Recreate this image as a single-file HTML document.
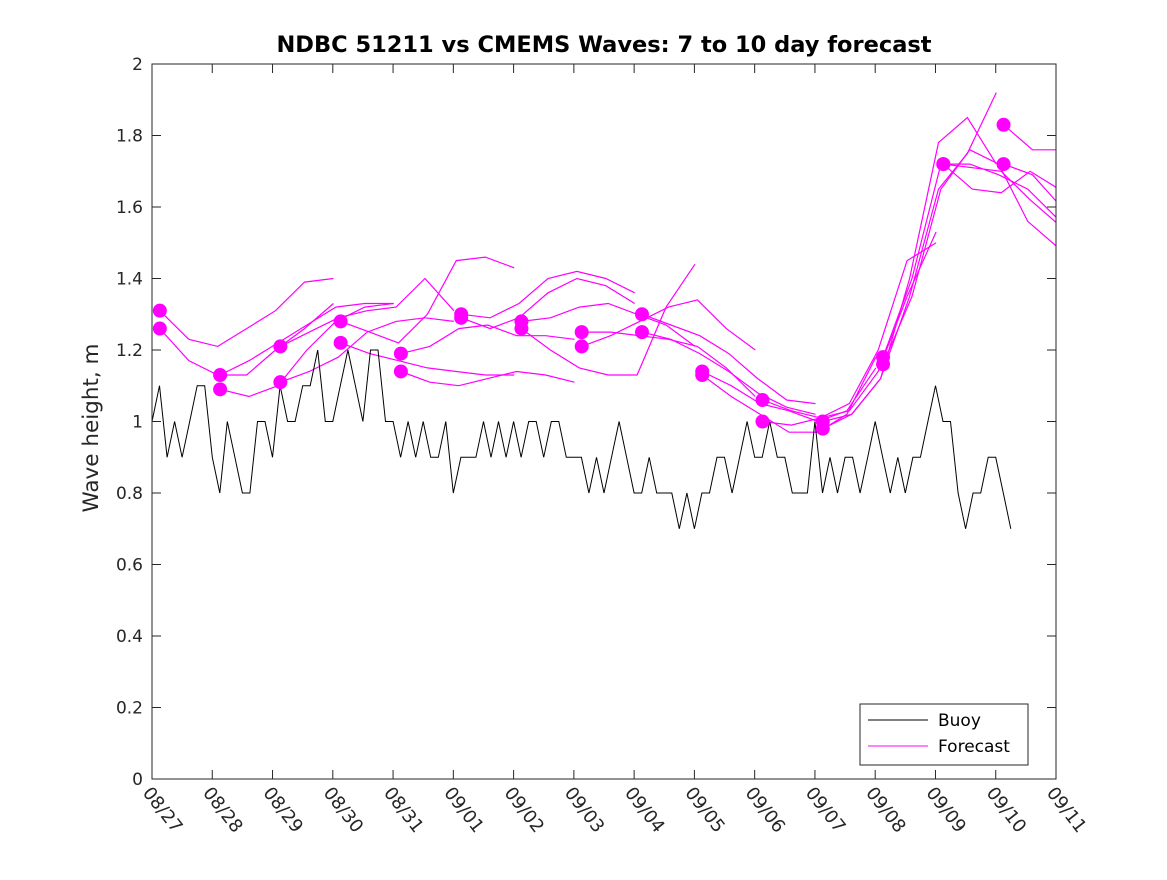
<!DOCTYPE html>
<html><head><meta charset="utf-8"><style>
body{margin:0;background:#fff}
svg text{font-family:"DejaVu Sans","Liberation Sans",sans-serif;fill:#262626}
</style></head><body>
<svg id="chart" width="1167" height="875" xmlns="http://www.w3.org/2000/svg">
<defs><clipPath id="clip"><rect x="152" y="64" width="904" height="715"/></clipPath></defs>
<rect x="0" y="0" width="1167" height="875" fill="#fff"/>
<text x="604" y="52" text-anchor="middle" font-size="22.5" font-weight="bold" style="fill:#000">NDBC 51211 vs CMEMS Waves: 7 to 10 day forecast</text>
<text transform="translate(98,428) rotate(-90)" text-anchor="middle" font-size="21.5">Wave height, m</text>
<g id="axes"></g>
<g id="series" clip-path="url(#clip)"></g>
<rect x="152" y="64" width="904" height="715" fill="none" stroke="#262626" stroke-width="1"/>
<g>
<rect x="860" y="704" width="168" height="61" fill="#fff" stroke="#262626" stroke-width="1"/>
<line x1="868" y1="720" x2="928" y2="720" stroke="#000" stroke-width="1"/>
<text x="938" y="726" font-size="17" style="fill:#000">Buoy</text>
<line x1="868" y1="746" x2="928" y2="746" stroke="#ff00ff" stroke-width="1"/>
<text x="938" y="752" font-size="17" style="fill:#000">Forecast</text>
</g>
</svg>
<script>
const xTickLabels=["08/27","08/28","08/29","08/30","08/31","09/01","09/02","09/03","09/04","09/05","09/06","09/07","09/08","09/09","09/10","09/11"];
const yTickValues=[0,0.2,0.4,0.6,0.8,1,1.2,1.4,1.6,1.8,2];
const yTickLabels=["0","0.2","0.4","0.6","0.8","1","1.2","1.4","1.6","1.8","2"];
const buoyStepDays=0.125;
const buoyValues=[
1.0,1.1,0.9,1.0,0.9,1.0,1.1,1.1,
0.9,0.8,1.0,0.9,0.8,0.8,1.0,1.0,
0.9,1.1,1.0,1.0,1.1,1.1,1.2,1.0,
1.0,1.1,1.2,1.1,1.0,1.2,1.2,1.0,
1.0,0.9,1.0,0.9,1.0,0.9,0.9,1.0,
0.8,0.9,0.9,0.9,1.0,0.9,1.0,0.9,
1.0,0.9,1.0,1.0,0.9,1.0,1.0,0.9,
0.9,0.9,0.8,0.9,0.8,0.9,1.0,0.9,
0.8,0.8,0.9,0.8,0.8,0.8,0.7,0.8,
0.7,0.8,0.8,0.9,0.9,0.8,0.9,1.0,
0.9,0.9,1.0,0.9,0.9,0.8,0.8,0.8,
1.0,0.8,0.9,0.8,0.9,0.9,0.8,0.9,
1.0,0.9,0.8,0.9,0.8,0.9,0.9,1.0,
1.1,1.0,1.0,0.8,0.7,0.8,0.8,0.9,
0.9,0.8,0.7];
const forecastStarts=[0.13,0.13,1.13,1.13,2.13,2.13,3.13,3.13,4.13,4.13,5.13,5.13,6.13,6.13,7.13,7.13,8.13,8.13,9.13,9.13,10.13,10.13,11.13,11.13,12.13,12.13,13.13,13.13,14.13,14.13];
const forecastStep=0.48;
const forecastValues=[
[1.31,1.23,1.21,1.26,1.31,1.39,1.40],
[1.26,1.17,1.13,1.13,1.20,1.26,1.33],
[1.13,1.17,1.22,1.27,1.32,1.33,1.33],
[1.09,1.07,1.10,1.20,1.28,1.32,1.33],
[1.21,1.25,1.29,1.31,1.32,1.40,1.31],
[1.11,1.14,1.18,1.25,1.28,1.29,1.28],
[1.28,1.25,1.22,1.30,1.45,1.46,1.43],
[1.22,1.19,1.17,1.15,1.14,1.13,1.13],
[1.19,1.21,1.26,1.27,1.24,1.24,1.23],
[1.14,1.11,1.10,1.12,1.14,1.13,1.11],
[1.30,1.29,1.33,1.40,1.42,1.40,1.36],
[1.29,1.26,1.29,1.36,1.40,1.38,1.33],
[1.28,1.29,1.32,1.33,1.30,1.27,1.21],
[1.26,1.20,1.15,1.13,1.13,1.32,1.44],
[1.25,1.25,1.24,1.23,1.21,1.15,1.07],
[1.21,1.24,1.28,1.32,1.34,1.26,1.20],
[1.30,1.27,1.24,1.19,1.12,1.06,1.05],
[1.25,1.23,1.19,1.14,1.08,1.04,1.02],
[1.14,1.10,1.05,1.03,1.00,1.03,1.15],
[1.13,1.07,1.02,0.97,0.97,1.02,1.18],
[1.06,1.03,1.01,1.03,1.14,1.35,1.53],
[1.00,0.99,1.01,1.05,1.20,1.45,1.50],
[1.00,1.02,1.12,1.40,1.78,1.85,1.72],
[0.98,1.02,1.12,1.35,1.65,1.75,1.92],
[1.18,1.40,1.72,1.72,1.69,1.65,1.57],
[1.16,1.35,1.65,1.76,1.72,1.56,1.49],
[1.72,1.65,1.64,1.70,1.65,1.49,1.45],
[1.72,1.71,1.70,1.62,1.55,1.48,1.43],
[1.83,1.76,1.76,1.82,1.82,1.82,1.82],
[1.72,1.69,1.60,1.55,1.55,1.55,1.55]];
const NS="http://www.w3.org/2000/svg";
const X0=152,X1=1056,Y0=779,Y1=64;
const xs=d=>X0+(X1-X0)*d/15;
const ys=v=>Y0-(Y0-Y1)*v/2;
function mk(tag,attrs,parent){const e=document.createElementNS(NS,tag);for(const k in attrs)e.setAttribute(k,attrs[k]);parent.appendChild(e);return e;}
const axes=document.getElementById('axes'),series=document.getElementById('series');
yTickValues.forEach((v,i)=>{
 const y=ys(v);
 const t1=mk('line',{x1:X0,y1:y,x2:X0+9,y2:y,stroke:'#262626'},axes);
 
 
 const t2=mk('line',{x1:X1-9,y1:y,x2:X1,y2:y,stroke:'#262626'},axes);
 
 
 const tx=mk('text',{x:X0-9,y:y+6,'text-anchor':'end','font-size':'17'},axes);
 tx.textContent=yTickLabels[i];
 
 
});
xTickLabels.forEach((lab,i)=>{
 const x=xs(i);
 const t1=mk('line',{x1:x,y1:Y0,x2:x,y2:Y0-9,stroke:'#262626'},axes);
 
 
 const t2=mk('line',{x1:x,y1:Y1,x2:x,y2:Y1+9,stroke:'#262626'},axes);
 
 
 const tx=mk('text',{transform:`translate(${x-10},${Y0+14}) rotate(52)`,'font-size':'18'},axes);
 tx.textContent=lab;
 
 
});
forecastValues.forEach((vals,i)=>{
 const s=forecastStarts[i];
 const pts=vals.map((v,k)=>xs(s+k*forecastStep).toFixed(1)+','+ys(v).toFixed(1)).join(' ');
 const pl=mk('polyline',{points:pts,fill:'none',stroke:'#ff00ff','stroke-width':1.2},series);
 
 
});
const bpts=buoyValues.map((v,k)=>xs(k*buoyStepDays).toFixed(1)+','+ys(v).toFixed(1)).join(' ');
const bl=mk('polyline',{points:bpts,fill:'none',stroke:'#000','stroke-width':1},series);


forecastValues.forEach((vals,i)=>{
 const c=mk('circle',{cx:xs(forecastStarts[i]),cy:ys(vals[0]),r:7,fill:'#ff00ff'},series);
 
 
});
</script>
</body></html>
